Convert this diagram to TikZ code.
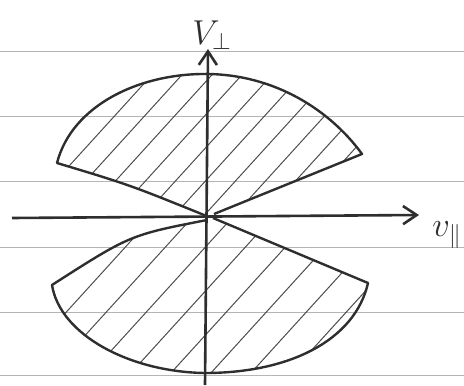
\documentclass[tikz,border=0pt]{standalone}
\usepackage{amsmath,amssymb}
\usepackage{tikz}
\usetikzlibrary{arrows.meta,positioning,calc}
\definecolor{crayon}{HTML}{2E2E2E}
\definecolor{papier}{HTML}{B5B5B5}

\begin{document}
\begin{tikzpicture}[
    x=0.5pt,y=0.5pt,
    ax/.style    = {-{Straight Barb[length=2.4mm,width=3.2mm]},crayon,line width=1.3pt},
    bord/.style  = {crayon,line width=1.2pt,line join=round},
    hach/.style  = {crayon!85,line width=0.5pt},
    ligne/.style = {papier,line width=0.5pt},
    lab/.style   = {font=\LARGE,text=crayon,inner sep=0pt},
  ]
  \useasboundingbox (0,0) rectangle (464,385);

  % lignes du cahier
  \foreach \y in {333,268,203,138,73,10}
    \draw[ligne] (0,\y) -- (464,\y);

  \coordinate (o)  at (208,168);
  \coordinate (hg) at (57,222);
  \coordinate (hd) at (362,231);
  \coordinate (bg) at (52,100);
  \coordinate (bd) at (368,102);

  % zone haute
  \begin{scope}
    \clip (209,168) .. controls (130,200) .. (hg)
          .. controls (72,280) and (140,312) .. (208,311)
          .. controls (275,310) and (330,275) .. (hd)
          -- (214,171) -- cycle;
    \foreach \c in {-400,-370,...,460}
      \draw[hach] (\c,0) -- ++(350,385);
  \end{scope}
  \draw[bord] (209,168) .. controls (130,200) .. (hg)
          .. controls (72,280) and (140,312) .. (208,311)
          .. controls (275,310) and (330,275) .. (hd)
          -- (214,171);

  % zone basse
  \begin{scope}
    \clip (207,165) .. controls (130,150) .. (bg)
          .. controls (60,50) and (130,13) .. (205,12)
          .. controls (290,12) and (355,45) .. (bd)
          .. controls (290,135) .. (213,167) -- cycle;
    \foreach \c in {-400,-360,...,460}
      \draw[hach] (\c,0) -- ++(350,385);
  \end{scope}
  \draw[bord] (207,165) .. controls (130,150) .. (bg)
          .. controls (60,50) and (130,13) .. (205,12)
          .. controls (290,12) and (355,45) .. (bd)
          .. controls (290,135) .. (213,167);

  % axes
  \coordinate (vb) at (205,0);
  \coordinate (vh) at (208,336);
  \coordinate (hga) at (12,167);
  \coordinate (hdr) at (419,170);
  \draw[ax] (vb) -- (vh);
  \draw[ax] (hga) -- (hdr);

  \node[lab] (vperp) at (212,350) {$V_{\perp}$};
  \node[lab,anchor=west] (vpar) at (432,150) {$v_{\parallel}$};

\end{tikzpicture}
\end{document}
